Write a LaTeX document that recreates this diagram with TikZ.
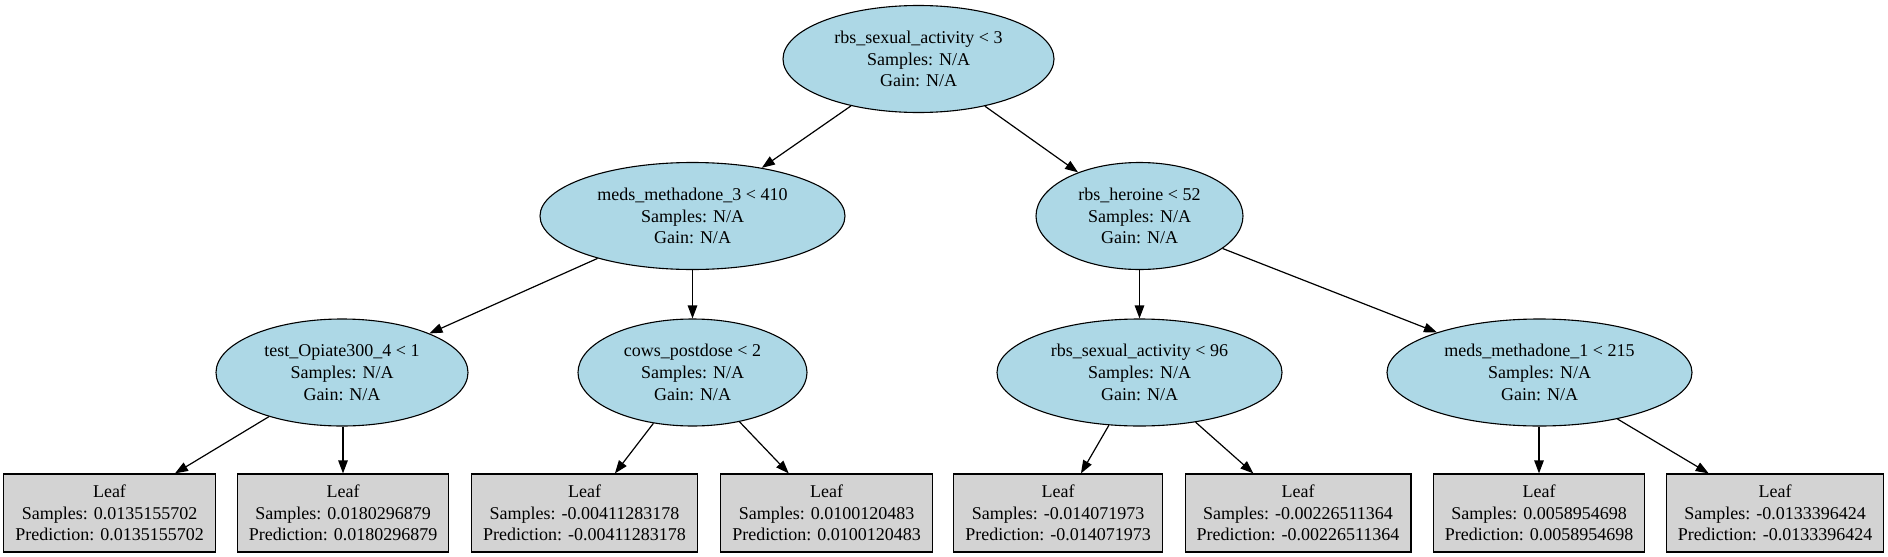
\documentclass[tikz,border=0pt]{standalone}
\usepackage{fontspec}
\setmainfont{Liberation Serif}
\usetikzlibrary{shapes.geometric,arrows.meta}
\definecolor{nodeblue}{HTML}{ADD8E6}
\definecolor{leafgrey}{HTML}{D3D3D3}
\tikzset{
  split/.style={ellipse, draw=black, fill=nodeblue, line width=1.1pt, inner sep=0pt,
    align=center, font=\fontsize{18}{21.7}\selectfont, minimum height=107pt},
  leaf/.style={rectangle, draw=black, fill=leafgrey, line width=1.2pt, inner xsep=11.5pt,
    inner ysep=0pt, align=center, font=\fontsize{18}{21.7}\selectfont, minimum height=78pt},
  edge/.style={line width=1.2pt, -{Triangle[length=13pt,width=9.5pt]}}
}
\begin{document}
\begin{tikzpicture}[x=1pt,y=-1pt]
\useasboundingbox (0,0) rectangle (1888,557);
% split nodes
\node[split, minimum width=271pt] (root) at (918.5,59) {rbs\_sexual\_activity < 3\\Samples: N/A\\Gain: N/A};
\node[split, minimum width=305pt] (m3) at (692.5,216) {meds\_methadone\_3 < 410\\Samples: N/A\\Gain: N/A};
\node[split, minimum width=207pt] (her) at (1139.5,216) {rbs\_heroine < 52\\Samples: N/A\\Gain: N/A};
\node[split, minimum width=252pt] (op) at (342,372.5) {test\_Opiate300\_4 < 1\\Samples: N/A\\Gain: N/A};
\node[split, minimum width=229pt] (cows) at (692.5,372.5) {cows\_postdose < 2\\Samples: N/A\\Gain: N/A};
\node[split, minimum width=285pt] (sex) at (1139.5,372.5) {rbs\_sexual\_activity < 96\\Samples: N/A\\Gain: N/A};
\node[split, minimum width=305pt] (m1) at (1539.5,372.5) {meds\_methadone\_1 < 215\\Samples: N/A\\Gain: N/A};
% leaves
\node[leaf] (l1) at (109.5,513) {Leaf\\Samples: 0.0135155702\\Prediction: 0.0135155702};
\node[leaf] (l2) at (343,513) {Leaf\\Samples: 0.0180296879\\Prediction: 0.0180296879};
\node[leaf] (l3) at (584.5,513) {Leaf\\Samples: -0.00411283178\\Prediction: -0.00411283178};
\node[leaf] (l4) at (826.5,513) {Leaf\\Samples: 0.0100120483\\Prediction: 0.0100120483};
\node[leaf] (l5) at (1058,513) {Leaf\\Samples: -0.014071973\\Prediction: -0.014071973};
\node[leaf] (l6) at (1298,513) {Leaf\\Samples: -0.00226511364\\Prediction: -0.00226511364};
\node[leaf] (l7) at (1539,513) {Leaf\\Samples: 0.0058954698\\Prediction: 0.0058954698};
\node[leaf] (l8) at (1775,513) {Leaf\\Samples: -0.0133396424\\Prediction: -0.0133396424};
% edges
\draw[edge] (root) -- (m3);
\draw[edge] (root) -- (her);
\draw[edge] (m3) -- (op);
\draw[edge] (m3) -- (cows);
\draw[edge] (her) -- (sex);
\draw[edge] (her) -- (m1);
\draw[edge] (op) -- (l1);
\draw[edge] (op.south -| l2) -- (l2);
\draw[edge] (cows) -- (l3);
\draw[edge] (cows) -- (l4);
\draw[edge] (sex) -- (l5);
\draw[edge] (sex) -- (l6);
\draw[edge] (m1.south -| l7) -- (l7);
\draw[edge] (m1) -- (l8);
\end{tikzpicture}
\end{document}
